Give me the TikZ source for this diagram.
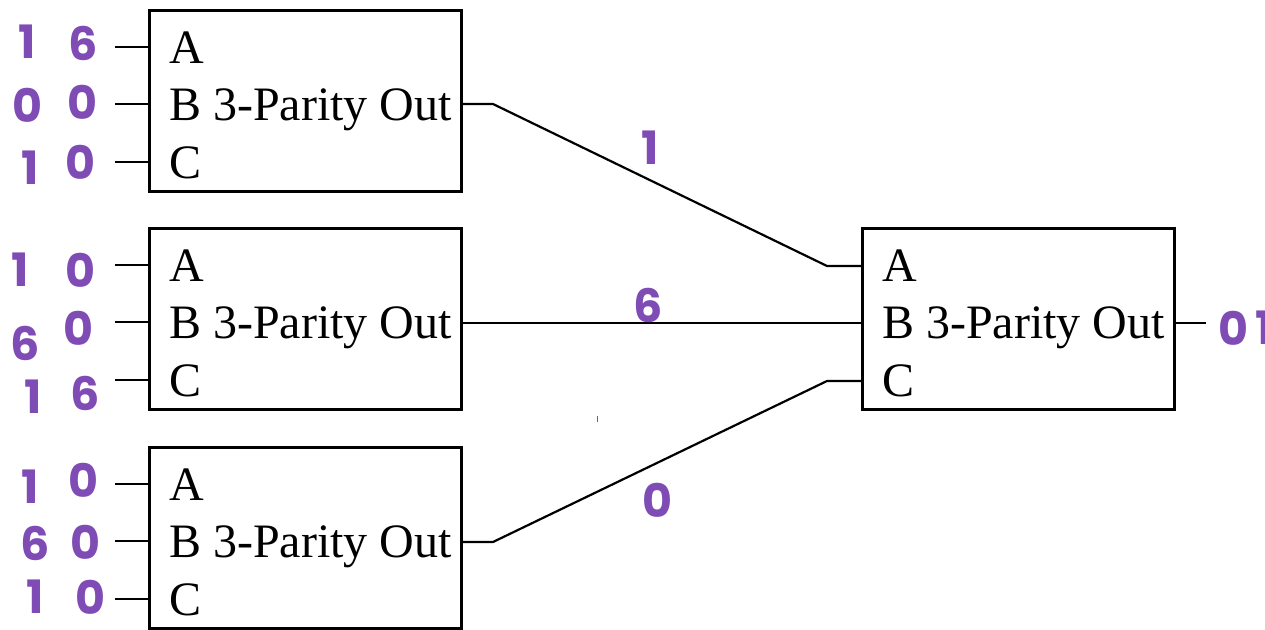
\documentclass[tikz,border=0pt]{standalone}
\usepackage{fontspec}
\setmainfont{Liberation Serif}
\newfontfamily\handfont{Poppins}
\definecolor{handc}{HTML}{7F4BB5}
\begin{document}
\begin{tikzpicture}[x=1pt,y=-1pt,
  gate/.style={draw, line width=3pt, minimum width=312pt, minimum height=181pt, anchor=north west, inner sep=0pt, outer sep=0pt},
  wire/.style={line width=2.2pt},
  lbl/.style={anchor=base west, inner sep=0pt, font=\fontsize{48}{48}\selectfont},
  hand/.style={text=handc, font=\handfont\bfseries\fontsize{46}{46}\selectfont, inner sep=0pt}]
\useasboundingbox (0,0) rectangle (1265,629);

% left gates
\foreach \i/\t in {1/10,2/228,3/447} {
  \node[gate] (g\i) at (149,\t) {};
  \node[lbl] (g\i lA) at (169,\t+53) {A};
  \node[lbl] (g\i lB) at (169,\t+110) {B 3-Parity Out};
  \node[lbl] (g\i lC) at (169,\t+168) {C};
  \coordinate (g\i pa) at (115,\t+37);
  \coordinate (g\i pb) at (115,\t+94);
  \coordinate (g\i pc) at (115,\t+152);
  \draw[wire] (g\i pa) -- (g\i.west |- g\i pa);
  \draw[wire] (g\i pb) -- (g\i.west |- g\i pb);
  \draw[wire] (g\i pc) -- (g\i.west |- g\i pc);
}

% right gate
\node[gate] (g4) at (862,228) {};
\node[lbl] (g4lA) at (882,281) {A};
\node[lbl] (g4lB) at (882,338) {B 3-Parity Out};
\node[lbl] (g4lC) at (882,396) {C};
\coordinate (g4pa) at (827,266);
\coordinate (g4pb) at (827,323);
\coordinate (g4pc) at (827,381);
\coordinate (g4o) at (1206,323);

% outputs of left gates
\coordinate (g1o) at (493,104);
\coordinate (g3o) at (493,542);

\draw[wire] (g1.east |- g1o) -- (g1o) -- (g4pa) -- (g4.west |- g4pa);
\draw[wire] (g2.east |- g4pb) -- (g4.west |- g4pb);
\draw[wire] (g3.east |- g3o) -- (g3o) -- (g4pc) -- (g4.west |- g4pc);
\draw[wire] (g4.east |- g4o) -- (g4o);

% handwritten values
\node[hand] (h1) at (27,42) {1};
\node[hand] (h2) at (83,43) {6};
\node[hand] (h3) at (27,105) {0};
\node[hand] (h4) at (82,102) {0};
\node[hand] (h5) at (30,168) {1};
\node[hand] (h6) at (80,162) {0};

\node[hand] (h7) at (20,270) {1};
\node[hand] (h8) at (80,270) {0};
\node[hand] (h9) at (25,343) {6};
\node[hand] (h10) at (78,328) {0};
\node[hand] (h11) at (33,397) {1};
\node[hand] (h12) at (85,393) {6};

\node[hand] (h13) at (30,487) {1};
\node[hand] (h14) at (83,480) {0};
\node[hand] (h15) at (35,543) {6};
\node[hand] (h16) at (85,542) {0};
\node[hand] (h17) at (35,597) {1};
\node[hand] (h18) at (90,597) {0};

\node[hand] (w1) at (650,148) {1};
\node[hand] (w2) at (648,305) {6};
\node[hand] (w3) at (657,500) {0};
\node[hand] (o1) at (1233,328) {0};
\node[hand] (o2) at (1264,328) {1};

\coordinate (tk1) at (597,416);
\coordinate (tk2) at (597,422);
\draw[handc, line width=1pt] (tk1) -- (tk2);
\end{tikzpicture}
\end{document}
